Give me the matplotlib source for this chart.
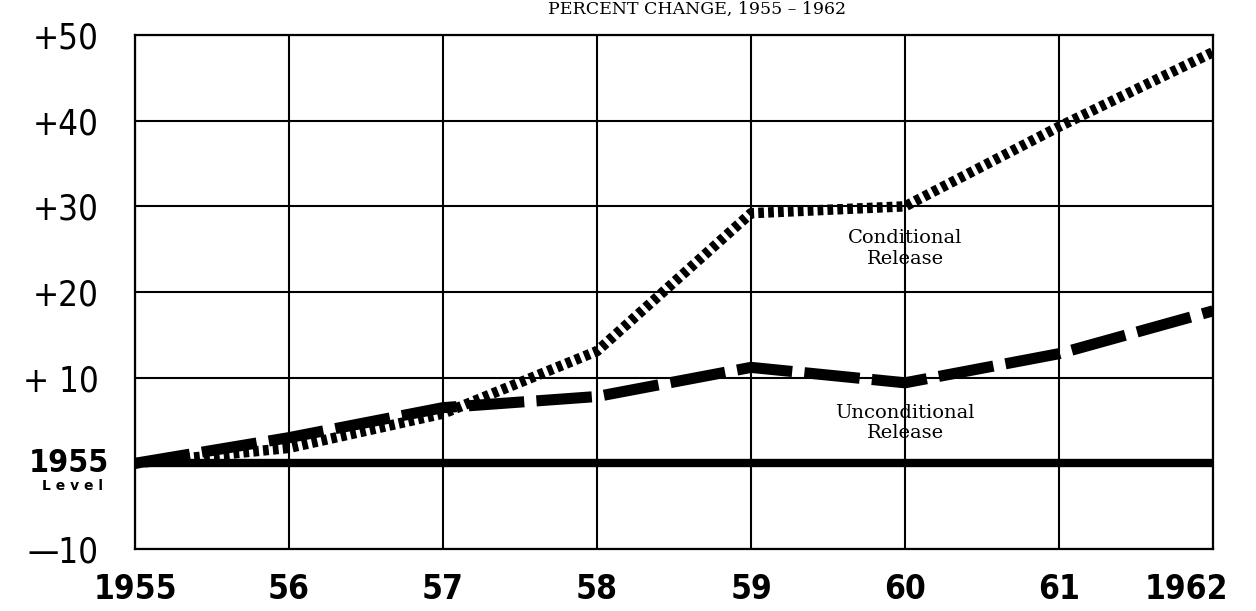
import numpy as np
import matplotlib.pyplot as plt
import matplotlib.transforms as mtransforms

# valores (variação percentual sobre 1955)
anos = [1955, 1956, 1957, 1958, 1959, 1960, 1961, 1962]
condicional = [0, 1.8, 5.8, 13.1, 29.2, 30.0, 39.3, 48.0]
incondicional = [0, 3.0, 6.5, 7.8, 11.2, 9.4, 12.8, 17.8]
rotulos_x = ['1955', '56', '57', '58', '59', '60', '61', '1962']
yticks = [-10, 0, 10, 20, 30, 40, 50]
rotulos_y = ['—10', '', '+ 10', '+20', '+30', '+40', '+50']

fig = plt.figure(figsize=(12.56, 6.11), dpi=100)
ax = fig.add_axes([0.1075, 0.1015, 0.8583, 0.8412])

ax.set_xlim(1955, 1962)
ax.set_ylim(-10, 50)

# grade
for a in anos:
    ax.axvline(a, color='black', lw=1.5, zorder=1)
for v in yticks:
    ax.axhline(v, color='black', lw=1.5, zorder=1)

# nível de 1955
ax.axhline(0, color='black', lw=6, solid_capstyle='butt', zorder=2)

ax.plot(anos, condicional, color='black', lw=7.5, dashes=(0.55, 0.4),
        dash_capstyle='butt', zorder=3)
ax.plot(anos, incondicional, color='black', lw=8, dashes=(5.0, 1.1),
        dash_capstyle='butt', zorder=3)

for s in ax.spines.values():
    s.set_linewidth(1.6)

fonte_num = dict(family='DejaVu Sans', fontstretch='condensed')

ax.set_xticks(anos)
ax.set_xticklabels(rotulos_x, fontsize=24, fontweight='bold', **fonte_num)
ax.set_yticks(yticks)
ax.set_yticklabels(rotulos_y, fontsize=25, **fonte_num)
ax.tick_params(axis='x', length=0, pad=17)
ax.tick_params(axis='y', length=0, pad=26)

ultimo = ax.get_xticklabels()[-1]
ultimo.set_horizontalalignment('right')
ultimo.set_transform(ultimo.get_transform() +
                     mtransforms.ScaledTranslation(0.15, 0, fig.dpi_scale_trans))

ax.text(-0.024, 0, '1955', transform=ax.get_yaxis_transform(), ha='right', va='center',
        fontsize=23, fontweight='bold', **fonte_num)
ax.text(-0.03, -2.6, 'L e v e l', transform=ax.get_yaxis_transform(), ha='right',
        va='center', fontsize=10, fontweight='bold', family='DejaVu Sans')

ax.text(1960, 25.1, 'Conditional\nRelease', ha='center', va='center',
        fontsize=14, family='DejaVu Serif', linespacing=1.2)
ax.text(1960, 4.7, 'Unconditional\nRelease', ha='center', va='center',
        fontsize=14, family='DejaVu Serif', linespacing=1.2)

fig.text(0.555, 0.999, 'PERCENT CHANGE, 1955 – 1962', ha='center', va='top',
         fontsize=12.5, family='DejaVu Serif')

fig.savefig('out.png', dpi=100)
